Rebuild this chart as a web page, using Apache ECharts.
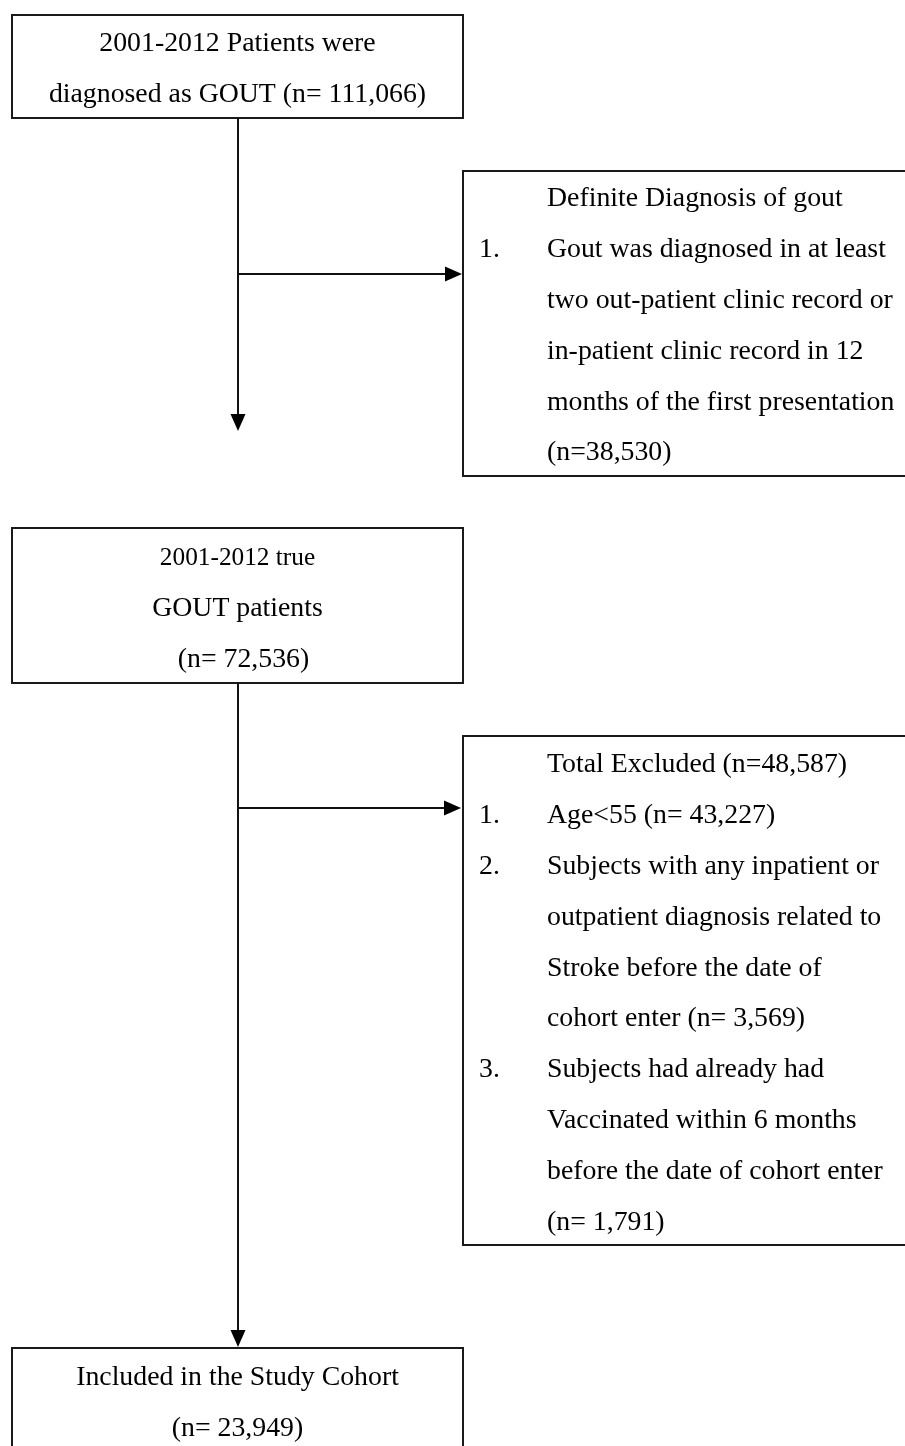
<!DOCTYPE html>
<html>
<head>
<meta charset="utf-8">
<script src="https://cdn.jsdelivr.net/npm/echarts@6/dist/echarts.min.js"></script>
<style>
html,body{margin:0;padding:0;background:#fff;}
#chart{width:905px;height:1446px;}
</style>
</head>
<body>
<div id="chart"></div>
<script>
// ---- Data (text content of the flowchart) ----
const box1Lines = ['2001-2012 Patients were', 'diagnosed as GOUT (n= 111,066)'];
const box2Title = 'Definite Diagnosis of gout';
const box2Numbers = ['1.'];
const box2Items = [
  ['Gout was diagnosed in at least', 'two out-patient clinic record or', 'in-patient clinic record in 12', 'months of the first presentation', '(n=38,530)']
];
const box3Lines = ['2001-2012 true', 'GOUT patients', '(n= 72,536)'];
const box4Title = 'Total Excluded (n=48,587)';
const box4Numbers = ['1.', '2.', '3.'];
const box4Items = [
  ['Age<55 (n= 43,227)'],
  ['Subjects with any inpatient or', 'outpatient diagnosis related to', 'Stroke before the date of', 'cohort enter (n= 3,569)'],
  ['Subjects had already had', 'Vaccinated within 6 months', 'before the date of cohort enter', '(n= 1,791)']
];
const box5Lines = ['Included in the Study Cohort', '(n= 23,949)'];

// ---- Drawing ----
const FONT = '"Liberation Serif", "Times New Roman", serif';
const FS = 27.8;
const STEP = 50.8;
const DY = 2;
const els = [];

function rect(x, y, w, h) {
  els.push({type: 'rect', shape: {x, y, width: w, height: h},
    style: {fill: '#fff', stroke: '#1a1a1a', lineWidth: 2}, z: 1});
}
function line(x1, y1, x2, y2) {
  els.push({type: 'line', shape: {x1, y1, x2, y2},
    style: {stroke: '#111', lineWidth: 2}, z: 2});
}
function tri(points) {
  els.push({type: 'polygon', shape: {points}, style: {fill: '#000'}, z: 3});
}
function text(str, x, y, align, size) {
  els.push({type: 'text', x, y: y + DY, z: 4,
    style: {text: str, font: (size || FS) + 'px ' + FONT, fill: '#000',
      textAlign: align, textVerticalAlign: 'middle'}});
}
function centeredBlock(lines, cx, y0, sizes, offsets) {
  lines.forEach((l, i) => text(l, cx + ((offsets && offsets[i]) || 0), y0 + i * STEP, 'center', sizes && sizes[i]));
}
function listBlock(title, nums, items, y0) {
  let y = y0;
  text(title, 547, y, 'left');
  y += STEP;
  items.forEach((it, k) => {
    text(nums[k], 479, y, 'left');
    it.forEach(l => { text(l, 547, y, 'left'); y += STEP; });
  });
}

// connectors
line(238, 118, 238, 416);
tri([[230.5, 414], [245.5, 414], [238, 431]]);
line(238, 274, 447, 274);
tri([[445, 266.5], [445, 281.5], [462, 274]]);
line(238, 683, 238, 1332);
tri([[230.5, 1330], [245.5, 1330], [238, 1347]]);
line(237, 808, 446, 808);
tri([[444, 800.5], [444, 815.5], [461, 808]]);

// boxes
rect(12, 15, 451, 103);
centeredBlock(box1Lines, 237.5, 42);

rect(463, 171, 460, 305);
listBlock(box2Title, box2Numbers, box2Items, 197);

rect(12, 528, 451, 155);
centeredBlock(box3Lines, 237.5, 556, [25.3, FS, FS], [0, 0, 6]);

rect(463, 736, 460, 509);
listBlock(box4Title, box4Numbers, box4Items, 763);

rect(12, 1348, 451, 120);
centeredBlock(box5Lines, 237.5, 1376);

const chart = echarts.init(document.getElementById('chart'), null, {renderer: 'canvas'});
chart.setOption({
  backgroundColor: '#fff',
  animation: false,
  graphic: {elements: els}
});
</script>
</body>
</html>
